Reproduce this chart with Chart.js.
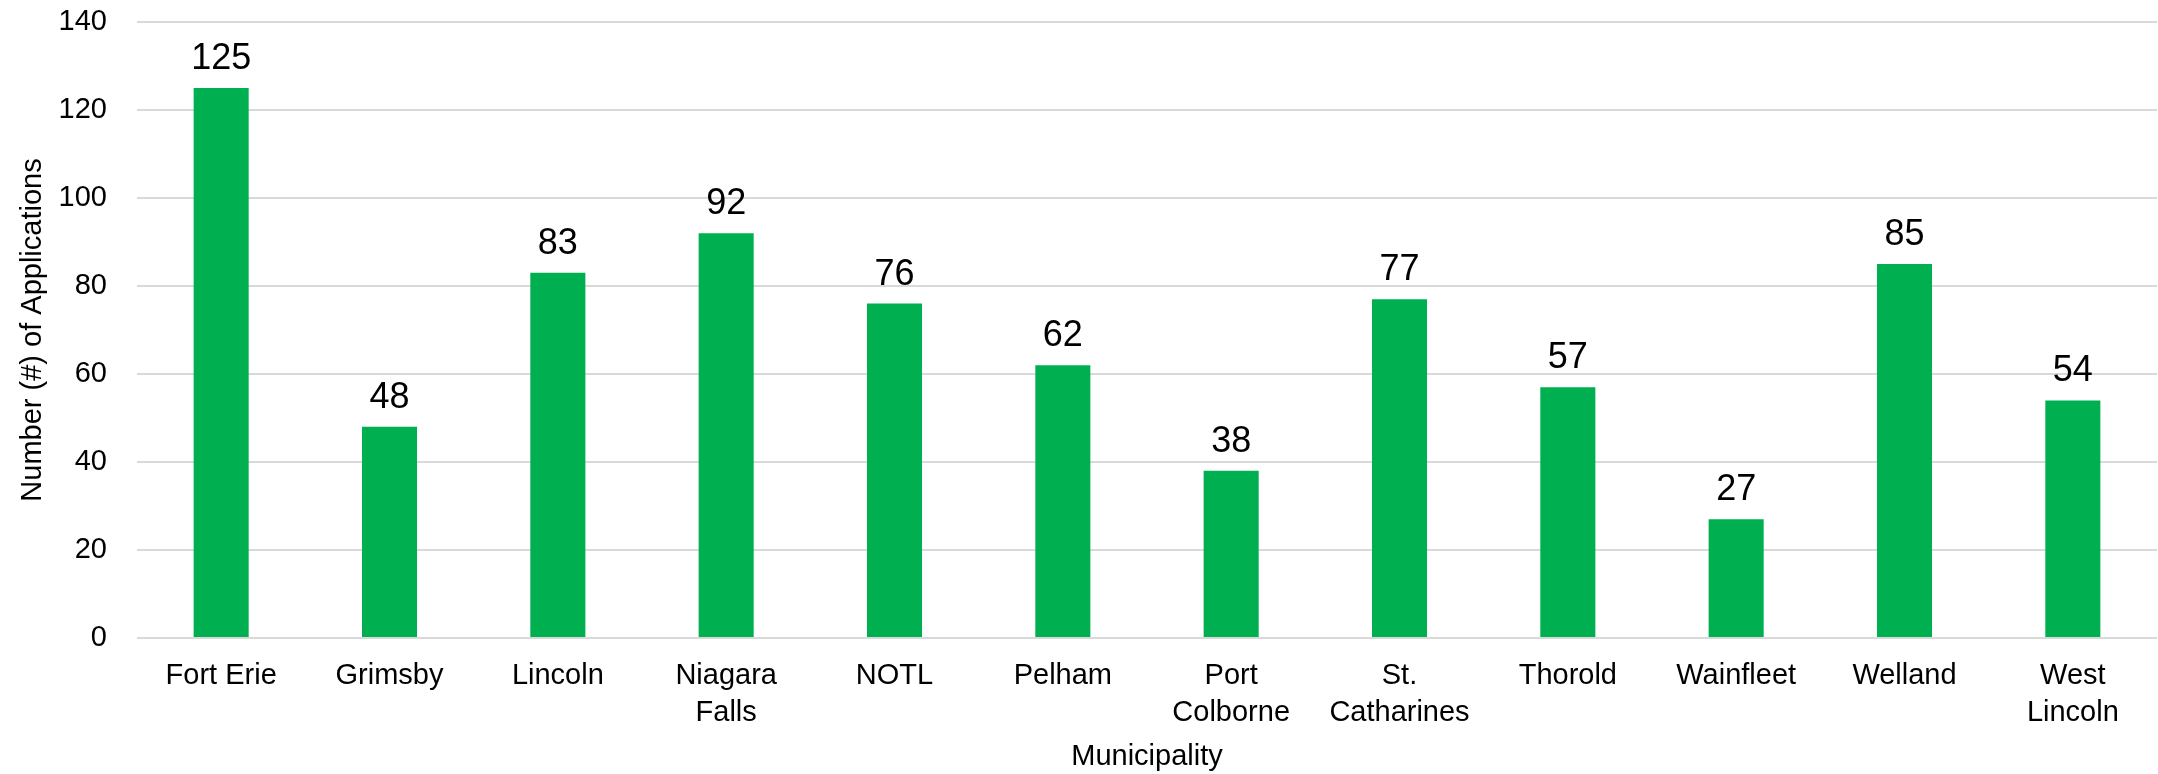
<!DOCTYPE html>
<html>
<head>
<meta charset="utf-8">
<script src="https://cdn.jsdelivr.net/npm/chart.js@4"></script>
<style>
  html, body { margin: 0; padding: 0; background: #fff; }
  #wrap { width: 2158px; height: 774px; }
</style>
</head>
<body>
<div id="wrap"><canvas id="chart" width="2158" height="774"></canvas></div>
<script>
// municipalities (multi-line ones as arrays)
const municipalities = [
  'Fort Erie', 'Grimsby', 'Lincoln', ['Niagara', 'Falls'], 'NOTL', 'Pelham',
  ['Port', 'Colborne'], ['St.', 'Catharines'], 'Thorold', 'Wainfleet', 'Welland', ['West', 'Lincoln']
];
const applications = [125, 48, 83, 92, 76, 62, 38, 77, 57, 27, 85, 54];
const yTicks = [0, 20, 40, 60, 80, 100, 120, 140];

const FONT = '"Liberation Sans", Arial, sans-serif';

// draw the value above each bar
const valueLabels = {
  id: 'valueLabels',
  afterDatasetsDraw(chart) {
    const ctx = chart.ctx;
    const meta = chart.getDatasetMeta(0);
    ctx.save();
    ctx.font = '36px ' + FONT;
    ctx.fillStyle = '#000';
    ctx.textAlign = 'center';
    ctx.textBaseline = 'alphabetic';
    meta.data.forEach((bar, i) => {
      ctx.fillText(String(applications[i]), bar.x, bar.y - 19);
    });
    ctx.restore();
  }
};

new Chart(document.getElementById('chart').getContext('2d'), {
  type: 'bar',
  data: {
    labels: municipalities,
    datasets: [{
      label: 'Applications',
      data: applications,
      backgroundColor: '#00b050',
      borderWidth: 0,
      barPercentage: 0.327,
      categoryPercentage: 1
    }]
  },
  options: {
    responsive: false,
    animation: false,
    layout: { autoPadding: false, padding: { top: 22, right: 1, left: 0, bottom: 0 } },
    plugins: {
      legend: { display: false },
      tooltip: { enabled: false }
    },
    scales: {
      x: {
        afterFit(scale) { scale.height = 136; },
        grid: { display: false, drawTicks: false },
        border: { display: false },
        ticks: {
          color: '#000',
          padding: 20,
          maxRotation: 0,
          autoSkip: false,
          font: { family: FONT, size: 29, lineHeight: 1.26 }
        },
        title: {
          display: true,
          text: 'Municipality',
          color: '#000',
          padding: { top: 0, bottom: 0 },
          font: { family: FONT, size: 29 }
        }
      },
      y: {
        min: 0,
        max: 140,
        afterFit(scale) { scale.width = 137; },
        afterBuildTicks(scale) {
          scale.ticks = yTicks.map(v => ({ value: v }));
        },
        // invisible tick marks give the gap between labels and plot
        grid: { color: '#d9d9d9', lineWidth: 2, drawTicks: true, tickLength: 30, tickColor: 'rgba(0,0,0,0)' },
        border: { display: false },
        ticks: {
          color: '#000',
          padding: 0,
          font: { family: FONT, size: 29 }
        },
        title: {
          display: true,
          text: 'Number (#) of Applications',
          color: '#000',
          padding: { top: 16, bottom: 8 },
          font: { family: FONT, size: 29 }
        }
      }
    }
  },
  plugins: [valueLabels]
});
</script>
</body>
</html>
